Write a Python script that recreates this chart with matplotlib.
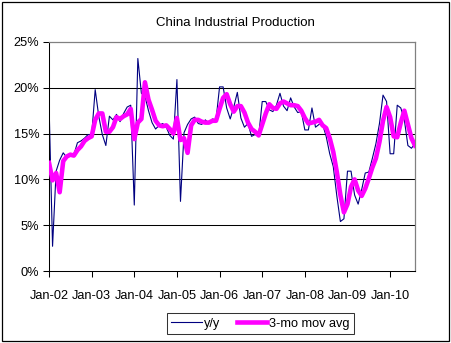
import numpy as np
import matplotlib.pyplot as plt
from matplotlib.patches import Rectangle

plt.rcParams['font.family'] = ['Liberation Sans', 'DejaVu Sans']

# monthly y/y growth, Jan-02 .. Aug-10
yy = [18.4, 2.7, 10.9, 12.1, 12.9, 12.4, 12.8, 12.7, 14.0, 14.2, 14.5, 14.9,
      14.8, 19.8, 16.9, 14.9, 13.7, 16.9, 16.5, 17.1, 16.3, 17.2, 17.9, 18.1,
      7.2, 23.2, 19.4, 19.1, 17.5, 16.2, 15.5, 15.9, 16.1, 15.7, 14.8, 14.4,
      20.9, 7.6, 15.1, 16.0, 16.6, 16.8, 16.1, 16.0, 16.5, 16.1, 16.6, 16.5,
      20.1, 20.1, 17.8, 16.6, 17.9, 19.5, 16.7, 15.7, 16.1, 14.7, 14.9, 14.7,
      18.5, 18.5, 17.6, 17.4, 18.1, 19.4, 18.0, 17.5, 18.9, 17.9, 17.3, 17.4,
      15.4, 15.4, 17.8, 15.7, 16.0, 16.0, 14.7, 12.8, 11.4, 8.2, 5.4, 5.7,
      10.9, 10.9, 8.3, 7.3, 8.9, 10.7, 10.8, 12.3, 13.9, 16.1, 19.2, 18.5,
      12.8, 12.8, 18.1, 17.8, 16.5, 13.7, 13.4, 13.9]

# 3-month moving average
mov_avg = [11.8, 9.9, 10.7, 8.6, 12.0, 12.5, 12.7, 12.6, 13.2, 13.6, 14.2, 14.5,
           14.7, 16.5, 17.2, 17.2, 15.2, 15.2, 15.7, 16.8, 16.6, 16.9, 17.1, 17.7,
           14.4, 16.2, 16.6, 20.6, 18.7, 17.6, 16.4, 15.9, 15.8, 15.9, 15.5, 15.0,
           16.7, 14.3, 14.5, 12.9, 15.9, 16.5, 16.5, 16.3, 16.2, 16.2, 16.4, 16.4,
           17.7, 18.9, 19.3, 18.2, 17.4, 18.0, 18.0, 17.3, 16.2, 15.5, 15.2, 14.8,
           16.0, 17.2, 18.2, 17.8, 17.7, 18.3, 18.5, 18.3, 18.1, 18.1, 18.0, 17.5,
           16.7, 16.1, 16.2, 16.3, 16.5, 15.9, 15.6, 14.5, 13.0, 10.8, 8.3, 6.4,
           7.3, 9.2, 10.0, 8.8, 8.2, 9.0, 10.1, 11.3, 12.3, 14.1, 16.4, 17.9,
           16.8, 14.7, 14.6, 16.2, 17.5, 16.0, 14.5, 13.7]

tick_labels = ['Jan-02', 'Jan-03', 'Jan-04', 'Jan-05', 'Jan-06',
               'Jan-07', 'Jan-08', 'Jan-09', 'Jan-10']

months = np.arange(len(yy))

fig = plt.figure(figsize=(4.51, 3.43), dpi=100)
fig.patch.set_facecolor('white')
ax = fig.add_axes([49/451, 1 - 271/343, (415 - 49)/451, (271 - 42)/343])

for v in [5, 10, 15, 20]:
    ax.axhline(v, color='black', lw=0.75, zorder=1)

ax.plot(months, yy, color='#000080', lw=0.8, label='y/y', zorder=2)
ax.plot(months, mov_avg, color='#FF00FF', lw=3.3, label='3-mo mov avg',
        solid_joinstyle='round', zorder=3)

ax.set_xlim(0, len(yy) - 1)
ax.set_ylim(0, 25)
ax.set_xticks(np.arange(0, len(yy), 12))
ax.set_xticklabels(tick_labels)
ax.set_yticks(np.arange(0, 26, 5))
ax.set_yticklabels(['%d%%' % v for v in range(0, 26, 5)])
ax.tick_params(axis='both', direction='out', length=4, width=0.75,
               labelsize=9.2, color='black', pad=3)
ax.tick_params(axis='x', pad=10)
for s in ['left', 'bottom']:
    ax.spines[s].set_color('black')
    ax.spines[s].set_linewidth(0.75)
for s in ['top', 'right']:
    ax.spines[s].set_color('#808080')
    ax.spines[s].set_linewidth(0.9)

fig.text(235.5/451, 1 - 22.5/343, 'China Industrial Production',
         ha='center', va='center', fontsize=9.5)

leg = fig.legend(loc='center', bbox_to_anchor=(260.5/451, 1 - 323.5/343),
                 ncol=2, fontsize=9.2, frameon=True, fancybox=False,
                 handlelength=2.4, handletextpad=0.15, columnspacing=1.3,
                 borderpad=0.35)
leg.get_frame().set_edgecolor('black')
leg.get_frame().set_linewidth(0.75)

fig.patches.append(Rectangle((1.5/451, 2.5/343), 447/451, 339/343,
                             transform=fig.transFigure, fill=False,
                             edgecolor='black', lw=0.9))

fig.savefig('out.png', dpi=100)
